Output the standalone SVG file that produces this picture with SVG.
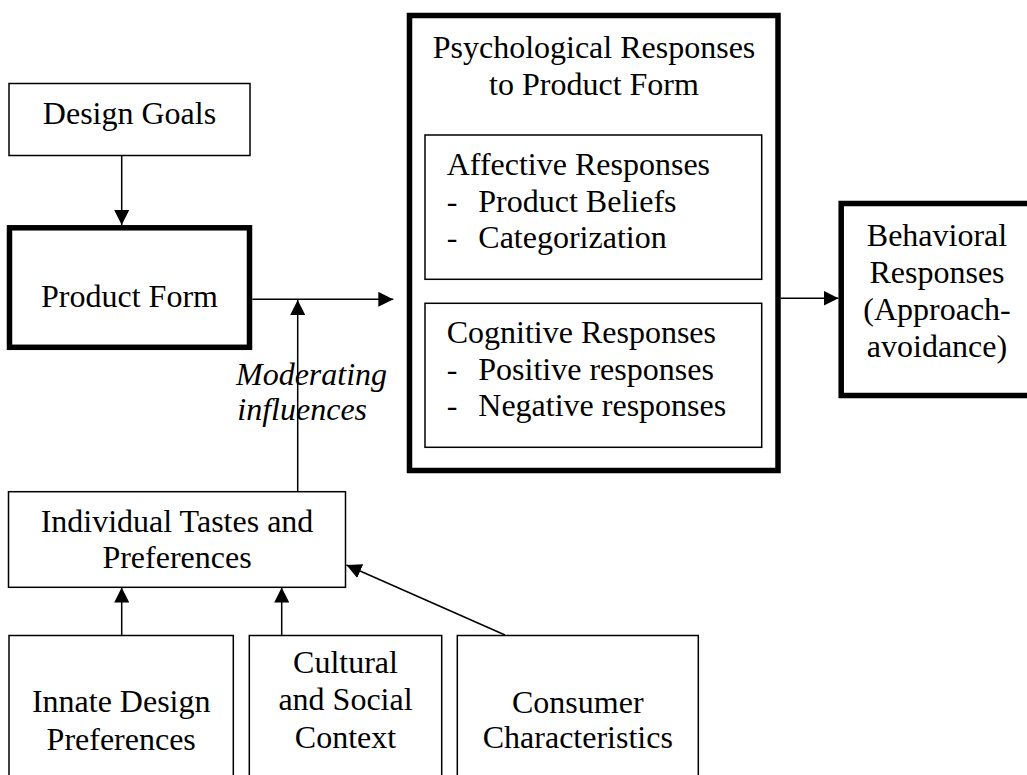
<svg xmlns="http://www.w3.org/2000/svg" width="1027" height="775" viewBox="0 0 1027 775">
<defs>
<style>
.t{font-family:"Liberation Serif","Times New Roman",serif;font-size:32px;fill:#000}
.c{text-anchor:middle}
.i{font-style:italic}
.thin{fill:#fff;stroke:#000;stroke-width:1.5}
.thick{fill:#fff;stroke:#000;stroke-width:5.5}
.ln{fill:none;stroke:#000;stroke-width:1.5}
</style>
<marker id="ah" markerUnits="userSpaceOnUse" markerWidth="15" markerHeight="15" refX="15" refY="7.5" orient="auto">
<path d="M0,0 L15,7.5 L0,15 z" fill="#000"/>
</marker>
</defs>
<rect width="1027" height="775" fill="#fff"/>

<g id="design-goals">
<rect class="thin" x="9" y="83.5" width="241" height="72"/>
<text class="t c" x="129.5" y="124">Design Goals</text>
</g>

<g id="product-form">
<rect class="thick" x="9.5" y="227.8" width="240" height="119.5"/>
<text class="t c" x="129.5" y="306.7">Product Form</text>
</g>

<g id="psychological-responses">
<rect class="thick" x="409.5" y="15.5" width="368.5" height="455"/>
<text class="t c" x="594" y="58.3">Psychological Responses</text>
<text class="t c" x="594" y="95">to Product Form</text>
</g>

<g id="affective-responses">
<rect class="thin" x="425" y="135" width="336.7" height="144.3"/>
<text class="t" x="446.7" y="175">Affective Responses</text>
<text class="t" x="446.7" y="212.3">-</text>
<text class="t" x="478.3" y="212.3">Product Beliefs</text>
<text class="t" x="446.7" y="248.3">-</text>
<text class="t" x="478.3" y="248.3">Categorization</text>
</g>

<g id="cognitive-responses">
<rect class="thin" x="425" y="303.3" width="336.7" height="144"/>
<text class="t" x="446.7" y="343.3">Cognitive Responses</text>
<text class="t" x="446.7" y="380">-</text>
<text class="t" x="478.3" y="380">Positive responses</text>
<text class="t" x="446.7" y="416">-</text>
<text class="t" x="478.3" y="416">Negative responses</text>
</g>

<g id="behavioral-responses">
<rect class="thick" x="841.2" y="203.5" width="200" height="192"/>
<text class="t c" x="937" y="246">Behavioral</text>
<text class="t c" x="937" y="283.3">Responses</text>
<text class="t c" x="937" y="320">(Approach-</text>
<text class="t c" x="937" y="356.7">avoidance)</text>
</g>

<g id="moderating-label">
<text class="t i" x="236" y="385">Moderating</text>
<text class="t i" x="237.3" y="420">influences</text>
</g>

<g id="individual-tastes">
<rect class="thin" x="8.5" y="491.7" width="337" height="95.6"/>
<text class="t c" x="177" y="531.7">Individual Tastes and</text>
<text class="t c" x="177" y="568.3">Preferences</text>
</g>

<g id="innate-design">
<rect class="thin" x="9" y="635.5" width="224.3" height="160"/>
<text class="t c" x="121.2" y="712.3">Innate Design</text>
<text class="t c" x="121.2" y="750">Preferences</text>
</g>

<g id="cultural-social">
<rect class="thin" x="249.3" y="635.5" width="192.4" height="160"/>
<text class="t c" x="345.5" y="673.3">Cultural</text>
<text class="t c" x="345.5" y="710">and Social</text>
<text class="t c" x="345.5" y="748.3">Context</text>
</g>

<g id="consumer-characteristics">
<rect class="thin" x="457.3" y="635.5" width="241" height="160"/>
<text class="t c" x="577.8" y="712.7">Consumer</text>
<text class="t c" x="577.8" y="748.3">Characteristics</text>
</g>

<g id="connectors">
<line class="ln" x1="121.7" y1="155.5" x2="121.7" y2="225" marker-end="url(#ah)"/>
<line class="ln" x1="252.3" y1="299.3" x2="393.3" y2="299.3" marker-end="url(#ah)"/>
<line class="ln" x1="297.7" y1="491.7" x2="297.7" y2="300" marker-end="url(#ah)"/>
<line class="ln" x1="780.7" y1="298.3" x2="838.5" y2="298.3" marker-end="url(#ah)"/>
<line class="ln" x1="121.7" y1="635.5" x2="121.7" y2="587.5" marker-end="url(#ah)"/>
<line class="ln" x1="281.7" y1="635.5" x2="281.7" y2="587.5" marker-end="url(#ah)"/>
<line class="ln" x1="505" y1="635" x2="346.5" y2="565" marker-end="url(#ah)"/>
</g>
</svg>
